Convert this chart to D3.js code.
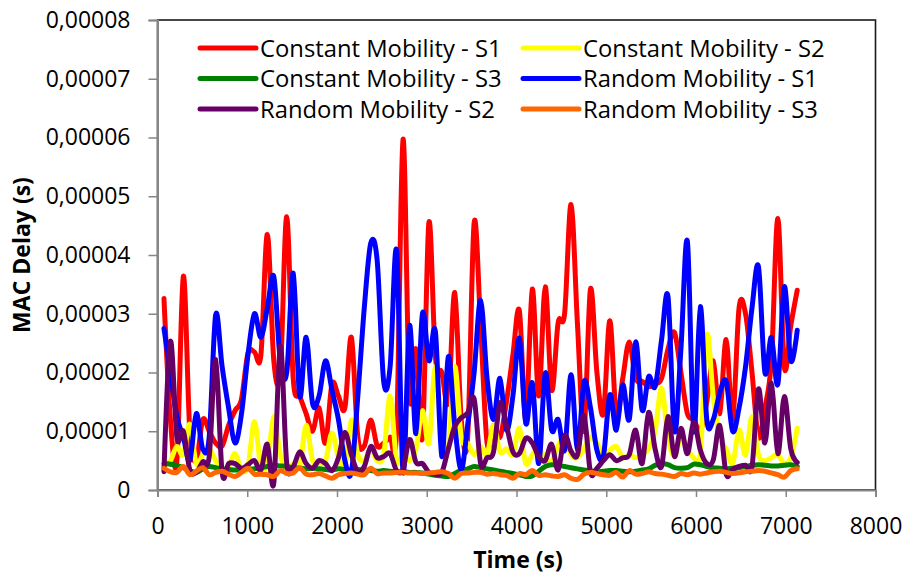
<!DOCTYPE html>
<html>
<head>
<meta charset="utf-8">
<script src="https://cdn.jsdelivr.net/npm/d3@7"></script>
<style>
  html, body { margin: 0; padding: 0; background: #fff; }
  svg { display: block; font-family: "Open Sans", sans-serif; }
</style>
</head>
<body>
<svg id="chart" width="905" height="574"></svg>
<script>
// Sampling instants (s)
const times = [
  72,144,216,288,360,432,504,576,648,720,
  792,864,936,1008,1080,1152,1224,1296,1368,1440,
  1512,1584,1656,1728,1800,1872,1944,2016,2088,2160,
  2232,2304,2376,2448,2520,2592,2664,2736,2808,2880,
  2952,3024,3096,3168,3240,3312,3384,3456,3528,3600,
  3672,3744,3816,3888,3960,4032,4104,4176,4248,4320,
  4392,4464,4536,4608,4680,4752,4824,4896,4968,5040,
  5112,5184,5256,5328,5400,5472,5544,5616,5688,5760,
  5832,5904,5976,6048,6120,6192,6264,6336,6408,6480,
  6552,6624,6696,6768,6840,6912,6984,7056,7128
];

// MAC delay per scenario, in units of 1e-5 s
const constantS1 = [
  3.26,1.2,0.5,3.64,1.0,0.5,1.2,1.0,0.8,0.75,
  1.1,1.35,1.55,2.33,2.35,2.3,4.35,2.2,2.0,4.65,
  1.9,1.6,1.3,1.0,1.4,0.8,1.8,1.6,1.4,2.6,
  0.9,0.75,1.19,0.75,0.8,0.9,1.0,5.97,1.6,2.4,
  0.9,4.55,2.27,2.0,1.5,3.36,1.2,0.9,4.55,2.8,
  0.8,1.1,0.9,1.5,2.3,3.05,1.2,3.42,1.6,3.46,
  1.7,2.85,3.0,4.86,2.8,1.0,3.42,2.0,1.3,2.88,
  1.25,1.9,2.52,1.9,1.85,1.76,1.8,1.9,2.4,2.68,
  2.0,1.3,1.2,1.0,1.5,2.2,1.3,2.56,1.2,3.1,
  3.0,2.0,0.9,1.4,2.2,4.62,2.1,2.8,3.4
];
const constantS2 = [
  0.4,0.5,0.74,0.6,1.12,0.45,0.6,0.7,0.5,0.35,
  0.4,0.62,0.35,0.4,1.16,0.4,0.45,1.25,0.6,0.34,
  0.45,0.4,1.1,0.5,0.45,0.5,0.97,0.55,0.4,1.19,
  0.6,0.5,0.7,0.5,0.6,1.6,0.5,0.6,0.5,0.7,
  1.35,0.8,2.1,0.9,0.7,2.1,0.9,0.8,0.6,0.74,
  0.6,1.1,0.65,0.7,0.6,1.05,0.45,0.6,0.7,0.55,
  0.5,0.75,0.9,0.6,0.55,0.7,0.9,0.8,0.6,0.68,
  0.74,0.55,0.6,0.55,0.6,0.7,1.0,1.73,0.9,0.57,
  0.9,0.7,0.55,0.6,2.64,1.6,0.9,0.7,0.45,1.02,
  0.6,1.25,0.6,0.5,0.55,0.6,0.45,0.55,1.05
];
const constantS3 = [
  0.45,0.44,0.42,0.38,0.33,0.3,0.36,0.4,0.38,0.36,
  0.35,0.34,0.35,0.36,0.36,0.38,0.4,0.42,0.41,0.4,
  0.38,0.37,0.36,0.37,0.36,0.35,0.34,0.36,0.35,0.34,
  0.35,0.34,0.33,0.32,0.33,0.32,0.31,0.31,0.3,0.3,
  0.29,0.27,0.25,0.24,0.23,0.28,0.34,0.36,0.4,0.38,
  0.36,0.34,0.32,0.3,0.28,0.26,0.23,0.24,0.32,0.4,
  0.43,0.42,0.4,0.38,0.36,0.34,0.33,0.31,0.32,0.33,
  0.33,0.32,0.31,0.32,0.34,0.36,0.42,0.45,0.43,0.38,
  0.37,0.38,0.44,0.43,0.4,0.38,0.37,0.36,0.37,0.38,
  0.4,0.42,0.43,0.42,0.41,0.41,0.42,0.43,0.4
];
const randomS1 = [
  2.75,2.0,1.25,0.9,0.5,1.3,0.7,0.9,2.98,2.1,
  1.4,0.8,1.3,2.3,3.0,2.6,3.1,3.63,2.2,2.0,
  3.69,1.6,2.6,1.47,1.6,2.2,1.7,1.2,0.5,0.3,
  1.6,3.1,4.2,3.9,1.85,2.1,4.07,0.3,2.8,0.96,
  3.0,2.2,2.7,0.57,2.27,1.1,0.35,1.1,2.0,3.23,
  1.9,1.2,1.9,1.02,1.6,2.58,1.13,1.82,0.45,1.99,
  1.02,1.2,0.68,1.96,0.68,1.84,1.4,0.68,0.57,1.62,
  1.02,1.79,1.2,2.52,1.36,1.93,1.76,2.55,3.29,1.0,
  2.4,4.23,1.0,3.12,1.2,1.2,1.65,1.85,1.0,1.4,
  2.1,3.1,3.8,2.0,2.6,1.8,3.46,2.2,2.72
];
const randomS2 = [
  0.31,2.53,0.9,1.0,0.34,0.3,0.48,0.57,2.22,0.3,
  0.45,0.45,0.37,0.43,0.5,0.34,0.78,0.12,2.45,0.45,
  0.4,0.65,0.45,0.37,0.5,0.45,0.33,0.55,0.98,0.6,
  0.31,0.4,0.74,0.55,0.57,0.62,0.33,0.35,0.86,0.47,
  0.45,0.3,0.27,0.3,0.7,1.08,1.23,1.31,1.55,0.45,
  0.55,0.65,1.48,1.1,0.65,0.62,0.88,0.8,0.57,0.5,
  0.78,0.34,0.93,0.66,0.6,1.27,0.3,0.37,0.5,0.6,
  0.5,0.55,0.6,1.02,0.45,1.32,0.7,0.4,1.25,0.57,
  1.05,0.62,1.15,0.68,0.45,0.51,1.1,0.27,0.35,0.4,
  0.42,0.4,1.72,0.8,1.82,0.62,1.59,0.7,0.47
];
const randomS3 = [
  0.37,0.31,0.3,0.4,0.26,0.32,0.38,0.26,0.3,0.32,
  0.27,0.23,0.3,0.37,0.27,0.27,0.26,0.23,0.33,0.28,
  0.29,0.38,0.27,0.26,0.28,0.24,0.2,0.26,0.28,0.29,
  0.27,0.26,0.37,0.28,0.29,0.29,0.3,0.3,0.29,0.29,
  0.28,0.29,0.3,0.31,0.28,0.2,0.28,0.29,0.3,0.3,
  0.27,0.28,0.26,0.25,0.2,0.28,0.26,0.33,0.25,0.26,
  0.24,0.23,0.26,0.2,0.18,0.27,0.3,0.28,0.26,0.25,
  0.3,0.22,0.33,0.27,0.28,0.31,0.28,0.27,0.25,0.23,
  0.28,0.26,0.29,0.27,0.29,0.31,0.32,0.3,0.28,0.29,
  0.31,0.32,0.33,0.32,0.29,0.26,0.22,0.33,0.36
];
const UNIT = 1e-5;

const seriesNames = [
  "Constant Mobility - S1", "Constant Mobility - S2", "Constant Mobility - S3",
  "Random Mobility - S1", "Random Mobility - S2", "Random Mobility - S3"
];
const seriesValues = [constantS1, constantS2, constantS3, randomS1, randomS2, randomS3];
const seriesColors = ["#FF0000", "#FFFF00", "#008000", "#0000FF", "#660066", "#FF6600"];

const xTicks = [0, 1000, 2000, 3000, 4000, 5000, 6000, 7000, 8000];
const yTicks = [0, 0.00001, 0.00002, 0.00003, 0.00004, 0.00005, 0.00006, 0.00007, 0.00008];
const yTickLabels = ["0", "0,00001", "0,00002", "0,00003", "0,00004", "0,00005", "0,00006", "0,00007", "0,00008"];

const svg = d3.select("#chart");
const plot = { left: 157.5, right: 875.5, top: 20, bottom: 490 };

const x = d3.scaleLinear().domain([0, 8000]).range([plot.left, plot.right]);
const y = d3.scaleLinear().domain([0, 0.00008]).range([plot.bottom, plot.top]);

// Plot frame (top/right edges dark)
svg.append("rect")
  .attr("x", plot.left).attr("y", plot.top)
  .attr("width", plot.right - plot.left).attr("height", plot.bottom - plot.top)
  .attr("fill", "#fff").attr("stroke", "#1a1a1a").attr("stroke-width", 1.6);

// Smoothed series lines, drawn in legend order
const line = d3.line()
  .x((d, i) => x(times[i]))
  .y(d => y(d * UNIT))
  .curve(d3.curveCatmullRom.alpha(0));

svg.append("g").selectAll("path")
  .data(seriesValues)
  .join("path")
  .attr("d", d => line(d))
  .attr("fill", "none")
  .attr("stroke", (d, i) => seriesColors[i])
  .attr("stroke-width", 5)
  .attr("stroke-linejoin", "round")
  .attr("stroke-linecap", "round");

// Axes
const axisColor = "#868686";
const xAxis = svg.append("g")
  .attr("transform", `translate(0,${plot.bottom})`)
  .call(d3.axisBottom(x).tickValues(xTicks).tickFormat(d3.format("d")).tickSize(7).tickPadding(21));
const yAxis = svg.append("g")
  .attr("transform", `translate(${plot.left},0)`)
  .call(d3.axisLeft(y).tickValues(yTicks).tickFormat((d, i) => yTickLabels[i]).tickSize(9).tickPadding(18));

[xAxis, yAxis].forEach(g => {
  g.select(".domain").attr("stroke", axisColor).attr("stroke-width", 2);
  g.selectAll(".tick line").attr("stroke", axisColor).attr("stroke-width", 1.5);
  g.selectAll(".tick text")
    .attr("fill", "#000")
    .style("font-family", "'Open Sans', sans-serif")
    .style("font-size", "23px");
});
xAxis.selectAll(".tick text").attr("dy", "0.71em");

// Axis titles
svg.append("text")
  .attr("x", 518).attr("y", 568)
  .attr("text-anchor", "middle")
  .style("font-size", "23px").style("font-weight", "bold")
  .text("Time (s)");
svg.append("text")
  .attr("transform", "translate(30,255) rotate(-90)")
  .attr("text-anchor", "middle")
  .style("font-size", "23px").style("font-weight", "bold")
  .text("MAC Delay (s)");

// Legend: two columns, three rows
const legendCols = [200, 523];
const legendRows = [48, 78.5, 109];
const legend = svg.append("g").selectAll("g")
  .data(seriesNames)
  .join("g")
  .attr("transform", (d, i) => `translate(${legendCols[i % 2]},${legendRows[Math.floor(i / 2)]})`);
legend.append("line")
  .attr("x1", 0).attr("x2", 56)
  .attr("stroke", (d, i) => seriesColors[i])
  .attr("stroke-width", 5)
  .attr("stroke-linecap", "round");
legend.append("text")
  .attr("x", 60).attr("dy", "0.36em")
  .style("font-size", "23.8px")
  .text(d => d);
</script>
</body>
</html>
